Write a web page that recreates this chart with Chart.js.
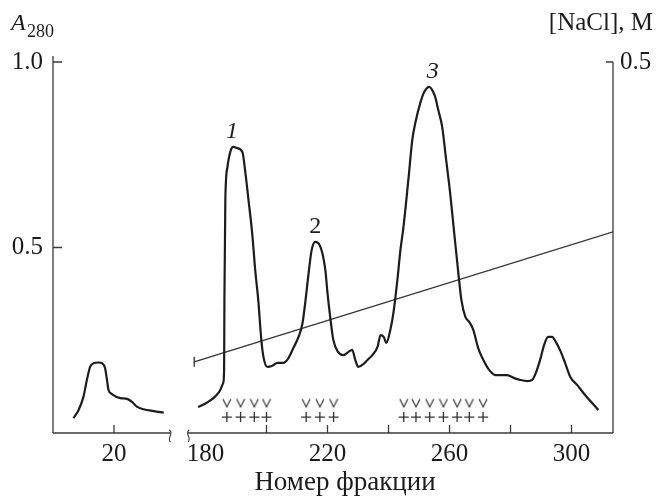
<!DOCTYPE html>
<html lang="ru">
<head>
<meta charset="utf-8">
<title>A280 / NaCl</title>
<script src="https://cdn.jsdelivr.net/npm/chart.js@4.4.0/dist/chart.umd.min.js"></script>
<style>
body { margin: 0; background: #fff; }
#wrap { width: 656px; height: 497px; }
</style>
</head>
<body>
<div id="wrap"><canvas id="chart" width="656" height="497"></canvas></div>
<script>
// values: fraction number -> A280
const earlyFrac = [6.7, 8.4, 10.0, 11.1, 12.2, 13.3, 15.0, 16.1, 17.1, 17.7, 18.2, 19.3, 22.1, 24.3, 25.9, 27.5, 29.7, 33.0, 36.3];
const earlyA    = [0.040, 0.062, 0.098, 0.143, 0.179, 0.188, 0.190, 0.188, 0.174, 0.143, 0.116, 0.105, 0.094, 0.092, 0.084, 0.071, 0.064, 0.059, 0.055];

const lateFrac = [177.6, 180.3, 182.6, 184.5, 185.8, 186.1, 186.2, 186.5, 187.2, 188.1, 189.1, 190.4, 192.1, 193.1, 194.1, 195.3, 196.3, 197.3, 198.3, 199.0,
  200.3, 201.9, 203.6, 205.5, 207.2, 208.8, 210.5, 211.8, 212.8, 213.8, 214.8, 216.0, 217.4, 218.3, 219.3, 220.0, 221.0, 221.9, 223.5, 225.2,
  226.8, 228.1, 229.1, 230.1, 231.8, 233.1, 234.7, 236.4, 237.4, 238.4, 239.3, 240.6, 241.6, 242.9, 243.9, 244.9, 246.5, 247.8, 248.8, 250.4,
  251.7, 253.4, 254.3, 255.3, 256.3, 257.6, 258.9, 260.2, 261.6, 262.9, 263.9, 265.2, 266.5, 267.8, 269.4, 271.1, 273.0, 275.0, 277.0, 278.9,
  281.2, 283.2, 285.5, 287.1, 288.4, 289.7, 291.0, 292.3, 293.6, 294.9, 296.2, 297.8, 299.6, 301.9, 303.9, 306.2, 308.8];
const lateA = [0.070, 0.081, 0.094, 0.111, 0.135, 0.170, 0.358, 0.628, 0.717, 0.757, 0.771, 0.768, 0.757, 0.700, 0.628, 0.539, 0.439, 0.358, 0.251, 0.205,
  0.178, 0.181, 0.189, 0.189, 0.202, 0.229, 0.259, 0.296, 0.358, 0.431, 0.493, 0.515, 0.507, 0.485, 0.439, 0.377, 0.305, 0.251, 0.218, 0.210,
  0.218, 0.224, 0.197, 0.178, 0.186, 0.197, 0.210, 0.232, 0.264, 0.259, 0.243, 0.278, 0.323, 0.412, 0.493, 0.555, 0.682, 0.790, 0.836, 0.889,
  0.919, 0.933, 0.925, 0.906, 0.871, 0.825, 0.736, 0.647, 0.534, 0.431, 0.358, 0.313, 0.299, 0.278, 0.229, 0.197, 0.170, 0.156, 0.156, 0.156,
  0.148, 0.143, 0.140, 0.143, 0.164, 0.197, 0.237, 0.259, 0.259, 0.245, 0.224, 0.191, 0.151, 0.129, 0.108, 0.086, 0.062];

// NaCl gradient, M
const saltFrac = [176.3, 313.6];
const saltM = [0.096, 0.271];

// fractions marked with "v" and "+"
const markedFrac = [187, 191.5, 196, 200, 213, 217.5, 222, 245, 249, 253.5, 258, 262.5, 266.5, 271];

const peakNames = ['1', '2', '3'];
const peakFrac = [188.7, 216, 254.5];

const xTickLabels = [20, 180, 220, 260, 300];
const xTickMarks = [20, 200, 220, 240, 260, 280, 300];
const aTicks = [0.5, 1.0];
const saltTicks = [0.5];

// the axis is broken between the early and late fractions
const SHIFT = 130;
function toAxis(f) { return f < 100 ? f : f - SHIFT; }
function fromAxis(v) { return v < 41 ? v : v + SHIFT; }

const SERIF = "'Liberation Serif', 'DejaVu Serif', serif";
const INK = '#1c1c1c';

function vGlyph() {
  const c = document.createElement('canvas');
  c.width = 10; c.height = 11;
  const g = c.getContext('2d');
  g.strokeStyle = '#333';
  g.lineWidth = 1.2;
  g.beginPath();
  g.moveTo(1, 1.5); g.lineTo(5, 9.5); g.lineTo(9, 1.5);
  g.stroke();
  return c;
}

const axesPlugin = {
  id: 'axes',
  beforeDatasetsDraw(chart) {
    const {ctx, chartArea: a, scales: {x, y, y2}} = chart;
    ctx.save();
    ctx.strokeStyle = '#3a3a3a';
    ctx.lineWidth = 1.3;
    ctx.beginPath();
    ctx.moveTo(a.left, a.top - 6); ctx.lineTo(a.left, a.bottom);
    ctx.moveTo(a.right, a.top); ctx.lineTo(a.right, a.bottom);
    // bottom axis with a break
    const b1 = x.getPixelForValue(38.5), b2 = x.getPixelForValue(44.3);
    ctx.moveTo(a.left, a.bottom); ctx.lineTo(b1, a.bottom);
    ctx.moveTo(b2, a.bottom); ctx.lineTo(a.right, a.bottom);
    xTickMarks.forEach(f => {
      const px = x.getPixelForValue(toAxis(f));
      ctx.moveTo(px, a.bottom); ctx.lineTo(px, a.bottom - 8);
    });
    aTicks.forEach(v => {
      const py = y.getPixelForValue(v);
      ctx.moveTo(a.left, py); ctx.lineTo(a.left + 9, py);
    });
    saltTicks.forEach(v => {
      const py = y2.getPixelForValue(v);
      ctx.moveTo(a.right, py); ctx.lineTo(a.right - 7, py);
    });
    ctx.stroke();
    ctx.lineWidth = 1.1;
    [b1, b2].forEach((px, i) => {
      const s = i === 0 ? 1 : -1;
      ctx.beginPath();
      ctx.moveTo(px - s, a.bottom - 3);
      ctx.bezierCurveTo(px + 4 * s, a.bottom + 1, px - 4 * s, a.bottom + 4, px, a.bottom + 9);
      ctx.stroke();
    });
    ctx.restore();
  },
  afterDatasetsDraw(chart) {
    const {ctx, chartArea: a, scales: {x, y}} = chart;
    ctx.save();
    ctx.fillStyle = INK;
    ctx.textBaseline = 'alphabetic';
    ctx.textAlign = 'left';
    ctx.font = 'italic 24px ' + SERIF;
    ctx.fillText('A', 11, 30);
    ctx.font = '18px ' + SERIF;
    ctx.fillText('280', 27, 37);
    ctx.font = '25px ' + SERIF;
    ctx.textAlign = 'right';
    ctx.fillText('[NaCl], M', 653, 30);
    ctx.textAlign = 'center';
    ctx.textBaseline = 'middle';
    ctx.font = '27px ' + SERIF;
    ctx.fillText('Номер фракции', (a.left + a.right) / 2 + 12, 483);
    // peak numbers above the late curve
    const italic = [true, false, true];
    peakNames.forEach((name, i) => {
      let top = 0;
      lateFrac.forEach((f, j) => { if (Math.abs(f - peakFrac[i]) < 4) top = Math.max(top, lateA[j]); });
      ctx.font = (italic[i] ? 'italic ' : '') + '24px ' + SERIF;
      ctx.fillText(name, x.getPixelForValue(toAxis(peakFrac[i])), y.getPixelForValue(top) - 15);
    });
    ctx.restore();
  }
};

const lineStyle = {
  borderColor: INK, borderWidth: 2.2, pointRadius: 0,
  cubicInterpolationMode: 'monotone', fill: false
};

new Chart(document.getElementById('chart'), {
  type: 'line',
  data: {
    datasets: [
      Object.assign({ label: 'A280 early', data: earlyFrac.map((f, i) => ({x: toAxis(f), y: earlyA[i]})) }, lineStyle),
      Object.assign({ label: 'A280', data: lateFrac.map((f, i) => ({x: toAxis(f), y: lateA[i]})) }, lineStyle),
      {
        label: 'NaCl', yAxisID: 'y2',
        data: saltFrac.map((f, i) => ({x: toAxis(f), y: saltM[i]})),
        borderColor: '#333', borderWidth: 1.3,
        pointStyle: 'line', rotation: 90, pointRadius: [5, 0], pointBorderWidth: 1.3, pointBorderColor: '#333'
      },
      {
        label: 'v', type: 'scatter',
        data: markedFrac.map(f => ({x: toAxis(f), y: 0.081})),
        pointStyle: vGlyph(), pointRadius: 5
      },
      {
        label: '+', type: 'scatter',
        data: markedFrac.map(f => ({x: toAxis(f), y: 0.043})),
        pointStyle: 'cross', pointRadius: 5, borderColor: '#333', borderWidth: 1.3
      }
    ]
  },
  options: {
    responsive: false,
    animation: false,
    layout: { padding: { top: 62, left: 0, right: 0, bottom: 0 } },
    plugins: { legend: { display: false }, tooltip: { enabled: false } },
    scales: {
      x: {
        type: 'linear', min: 0, max: 183.6,
        grid: { display: false, drawTicks: false }, border: { display: false },
        afterBuildTicks: s => { s.ticks = [20, 180, 200, 220, 240, 260, 280, 300].map(f => ({value: toAxis(f)})); },
        afterFit: s => { s.height = 64; },
        ticks: {
          autoSkip: false, maxRotation: 0, padding: 6, color: INK,
          font: { family: SERIF, size: 25 },
          callback: v => { const f = Math.round(fromAxis(v)); return xTickLabels.includes(f) ? String(f) : ''; }
        }
      },
      y: {
        position: 'left', min: 0, max: 1,
        grid: { display: false, drawTicks: false }, border: { display: false },
        afterBuildTicks: s => { s.ticks = aTicks.map(v => ({value: v})); },
        afterFit: s => { s.width = 53; },
        ticks: { padding: 10, color: INK, font: { family: SERIF, size: 25 }, callback: v => v.toFixed(1) }
      },
      y2: {
        position: 'right', min: 0, max: 0.5,
        grid: { display: false, drawTicks: false }, border: { display: false },
        afterBuildTicks: s => { s.ticks = saltTicks.map(v => ({value: v})); },
        afterFit: s => { s.width = 43; },
        ticks: { padding: 7, color: INK, font: { family: SERIF, size: 25 }, callback: v => v.toFixed(1) }
      }
    }
  },
  plugins: [axesPlugin]
});
</script>
</body>
</html>
